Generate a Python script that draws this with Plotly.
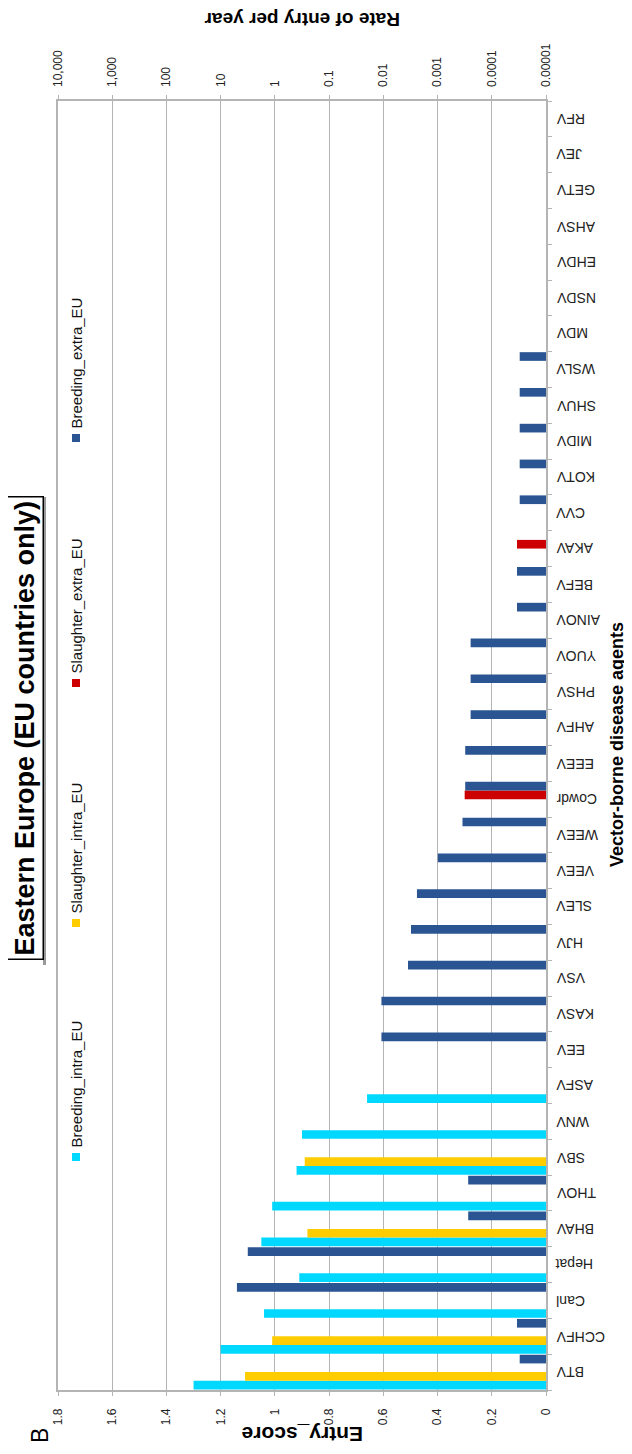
import plotly.graph_objects as go

categories = ["BTV", "CCHFV", "Canl", "Hepat", "BHAV", "THOV", "SBV", "WNV", "ASFV",
              "EEV", "KASV", "VSV", "HJV", "SLEV", "VEEV", "WEEV", "Cowdr", "EEEV",
              "AHFV", "PHSV", "YUOV", "AINOV", "BEFV", "AKAV", "CVV", "KOTV", "MIDV",
              "SHUV", "WSLV", "MDV", "NSDV", "EHDV", "AHSV", "GETV", "JEV", "RFV"]

breeding_intra_eu = [1.30, 1.20, 1.04, 0.91, 1.05, 1.01, 0.92, 0.90, 0.66,
                     0, 0, 0, 0, 0, 0, 0, 0, 0,
                     0, 0, 0, 0, 0, 0, 0, 0, 0,
                     0, 0, 0, 0, 0, 0, 0, 0, 0]
slaughter_intra_eu = [1.11, 1.01, 0, 0, 0.88, 0, 0.89, 0, 0,
                      0, 0, 0, 0, 0, 0, 0, 0, 0,
                      0, 0, 0, 0, 0, 0, 0, 0, 0,
                      0, 0, 0, 0, 0, 0, 0, 0, 0]
slaughter_extra_eu = [0, 0, 0, 0, 0, 0, 0, 0, 0,
                      0, 0, 0, 0, 0, 0, 0, 0.30, 0,
                      0, 0, 0, 0, 0, 0.107, 0, 0, 0,
                      0, 0, 0, 0, 0, 0, 0, 0, 0]
breeding_extra_eu = [0.097, 0.107, 1.14, 1.10, 0.287, 0.287, 0, 0, 0,
                     0.607, 0.607, 0.509, 0.498, 0.476, 0.399, 0.308, 0.298, 0.298,
                     0.278, 0.278, 0.278, 0.107, 0.107, 0, 0.097, 0.097, 0.097,
                     0.097, 0.097, 0, 0, 0, 0, 0, 0, 0]

series_names = ["Breeding_intra_EU", "Slaughter_intra_EU", "Slaughter_extra_EU", "Breeding_extra_EU"]
series_values = [breeding_intra_eu, slaughter_intra_eu, slaughter_extra_eu, breeding_extra_eu]
series_colors = ["#00D8FF", "#FFCC00", "#CC0000", "#2B5592"]

entry_ticks = [1.8, 1.6, 1.4, 1.2, 1.0, 0.8, 0.6, 0.4, 0.2, 0.0]
entry_ticktext = ["1.8", "1.6", "1.4", "1.2", "1", "0.8", "0.6", "0.4", "0.2", "0"]
rate_ticktext = ["10,000", "1,000", "100", "10", "1", "0.1", "0.01", "0.001", "0.0001", "0.00001"]

FONT = "Liberation Sans, Arial, Helvetica, sans-serif"
GRID = "#b4b4b4"

fig = go.Figure()
for name, vals, col in zip(series_names, series_values, series_colors):
    fig.add_trace(go.Bar(y=categories, x=vals, name=name, orientation="h",
                         marker=dict(color=col, line=dict(width=0)), showlegend=False))

# page has an 8px body margin; figure sized to fit the 632x1454 window
OFF = 8
W, H = 632 - OFF, 1454 - OFF
# plot area in page pixels
PL, PR, PT, PB = 58, 546, 101, 1390
L, R, T, B = PL - OFF, PR - OFF, PT - OFF, PB - OFF


def px_x(p):
    return (p - PL) / (PR - PL)


def px_y(p):
    return (PB - p) / (PB - PT)


fig.update_layout(
    width=W, height=H,
    margin=dict(l=L, r=W - R, t=T, b=H - B, pad=0),
    paper_bgcolor="white", plot_bgcolor="white",
    barmode="group", bargap=0.03, bargroupgap=0,
    font=dict(family=FONT, color="#000000"),
    xaxis=dict(range=[1.8, 0], tickvals=entry_ticks, ticktext=entry_ticktext,
               tickangle=-90, tickfont=dict(size=12, color="#222"),
               ticklabelstandoff=8,
               showgrid=True, gridcolor=GRID, gridwidth=1,
               showline=True, linecolor=GRID, linewidth=1.5, mirror="ticks",
               ticks="outside", ticklen=4, tickcolor=GRID, zeroline=False,
               fixedrange=True),
    xaxis2=dict(range=[1.8, 0], tickvals=entry_ticks, ticktext=rate_ticktext,
                overlaying="x", side="top", anchor="y", tickangle=-90,
                tickfont=dict(size=12, color="#222"), showgrid=False,
                ticklabelstandoff=13,
                showline=False, ticks="", zeroline=False),
    yaxis=dict(categoryorder="array", categoryarray=categories, side="right",
               showticklabels=False,
               showline=True, linecolor=GRID, linewidth=1.5, mirror=True,
               ticks="outside", ticklen=4, tickcolor=GRID, tickson="boundaries",
               showgrid=False, zeroline=False),
)

# invisible helper so the top axis is drawn
fig.add_trace(go.Scatter(x=[None], y=[None], xaxis="x2", yaxis="y",
                         showlegend=False, hoverinfo="skip"))

ann = []
shapes = []
# category labels, upside down, placed through the category axis
for c in categories:
    ann.append(dict(x=px_x(554), y=c, xref="paper", yref="y", text=c,
                    showarrow=False, textangle=180,
                    font=dict(size=14, family=FONT, color="#222"),
                    xanchor="left", yanchor="middle"))

# soft shadow beside the title box
shapes.append(dict(type="rect", xref="paper", yref="paper",
                   x0=px_x(43), x1=px_x(46), y0=px_y(965), y1=px_y(497),
                   fillcolor="#9a9a9a", line=dict(width=0), layer="below"))
ann.append(dict(x=px_x(25), y=px_y(728), xref="paper", yref="paper",
                text="<b>Eastern Europe (EU countries only)</b>", showarrow=False,
                textangle=-90, font=dict(size=27, family=FONT, color="black"),
                bordercolor="black", borderwidth=1.5, borderpad=3, bgcolor="white",
                xanchor="center", yanchor="middle"))
ann.append(dict(x=px_x(40), y=px_y(1436), xref="paper", yref="paper", text="B",
                showarrow=False, textangle=-90, font=dict(size=23, family=FONT, color="black"),
                xanchor="center", yanchor="middle"))
ann.append(dict(x=px_x(303), y=px_y(1435), xref="paper", yref="paper",
                text="<b>Entry_score</b>", showarrow=False, textangle=180,
                font=dict(size=21, family=FONT, color="black"),
                xanchor="center", yanchor="middle"))
ann.append(dict(x=px_x(302), y=px_y(20), xref="paper", yref="paper",
                text="<b>Rate of entry per year</b>", showarrow=False, textangle=180,
                font=dict(size=19, family=FONT, color="black"),
                xanchor="center", yanchor="middle", borderpad=0))
ann.append(dict(x=px_x(617), y=px_y(745), xref="paper", yref="paper",
                text="<b>Vector-borne disease agents</b>", showarrow=False, textangle=-90,
                font=dict(size=18, family=FONT, color="black"),
                xanchor="center", yanchor="middle"))

legend_marker_y = [1157, 923, 683, 438]
for name, col, my in zip(series_names, series_colors, legend_marker_y):
    shapes.append(dict(type="rect", xref="paper", yref="paper",
                       x0=px_x(72), x1=px_x(80), y0=px_y(my + 4), y1=px_y(my - 4),
                       fillcolor=col, line=dict(width=0)))
    ann.append(dict(x=px_x(76), y=px_y(my - 7), xref="paper", yref="paper", text=name,
                    showarrow=False, textangle=-90,
                    font=dict(size=15, family=FONT, color="#111"),
                    xanchor="center", yanchor="bottom"))

fig.update_layout(annotations=ann, shapes=shapes)
fig.write_html("out.html")
